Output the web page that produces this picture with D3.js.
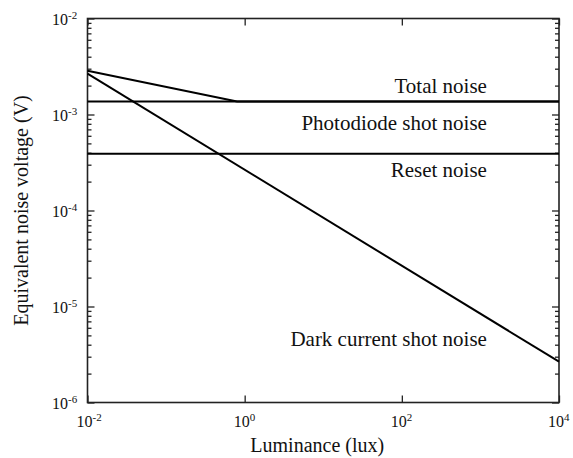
<!DOCTYPE html>
<html>
<head>
<meta charset="utf-8">
<script src="https://cdn.jsdelivr.net/npm/d3@7"></script>
<style>
  body { margin: 0; background: #fff; }
  svg { display: block; }
  svg text { font-family: 'Times New Roman', Times, Tinos, 'Liberation Serif', 'DejaVu Serif', 'Noto Serif', serif; fill: #111; }
</style>
</head>
<body>
<div id="chart"></div>
<script>
// Values (lux, volts)
const dark_lux = [ 1e-2, 1e4 ];
const dark_v = [ 2.66e-3, 2.66e-6 ];
const total_lux = [ 1e-2, 0.8, 1e4 ];
const total_v = [ 2.86e-3, 1.37e-3, 1.37e-3 ];
const photo_lux = [ 1e-2, 1e4 ];
const photo_v = [ 1.37e-3, 1.37e-3 ];
const reset_lux = [ 1e-2, 1e4 ];
const reset_v = [ 3.9e-4, 3.9e-4 ];

const x_tick_exps = [ -2, 0, 2, 4 ];
const y_tick_exps = [ -6, -5, -4, -3, -2 ];

const label_texts = [ 'Total noise', 'Photodiode shot noise', 'Reset noise', 'Dark current shot noise' ];
const label_lux = [ 1210, 1210, 1210, 1210 ];
const label_v = [ 1.66e-3, 6.9e-4, 2.25e-4, 3.88e-6 ];

const xAxisTitle = 'Luminance (lux)';
const yAxisTitle = 'Equivalent noise voltage (V)';

const figure_width = 573;
const figure_height = 458;
const plot_margin = { top: 18.5, right: 14, bottom: 55.5, left: 87.5 },
    plot_width = figure_width - plot_margin.left - plot_margin.right,
    plot_height = figure_height - plot_margin.top - plot_margin.bottom;

const svg = d3.select( 'div#chart' )
  .append( 'svg' )
    .attr( 'width', figure_width )
    .attr( 'height', figure_height )
    .append( 'g' )
      .attr( 'transform', 'translate(' + plot_margin.left + ',' + plot_margin.top + ')' );

const x = d3.scaleLog()
  .domain( [ 1e-2, 1e4 ] )
  .range( [ 0, plot_width ] );
const y = d3.scaleLog()
  .domain( [ 1e-6, 1e-2 ] )
  .range( [ plot_height, 0 ] );

// minor y ticks (2..9 per decade)
const y_minor = [];
y_tick_exps.slice( 0, -1 ).forEach( function( e ) {
  for ( let m = 2; m < 10; m++ ) y_minor.push( m * Math.pow( 10, e ) );
});
const x_major = x_tick_exps.map( function( e ){ return Math.pow( 10, e ) } );
const y_major = y_tick_exps.map( function( e ){ return Math.pow( 10, e ) } );

// Axes with inward ticks: bottom, top, left, right
svg.append( 'g' )
  .attr( 'transform', 'translate(0,' + plot_height + ')' )
  .call( d3.axisBottom( x ).tickValues( x_major ).tickSize( -7 ).tickFormat( '' ).tickSizeOuter( 0 ) );
svg.append( 'g' )
  .call( d3.axisTop( x ).tickValues( x_major ).tickSize( -7 ).tickFormat( '' ).tickSizeOuter( 0 ) );
svg.append( 'g' )
  .call( d3.axisLeft( y ).tickValues( y_major ).tickSize( -7 ).tickFormat( '' ).tickSizeOuter( 0 ) );
svg.append( 'g' )
  .call( d3.axisLeft( y ).tickValues( y_minor ).tickSize( -4 ).tickFormat( '' ).tickSizeOuter( 0 ) );
svg.append( 'g' )
  .attr( 'transform', 'translate(' + plot_width + ',0)' )
  .call( d3.axisRight( y ).tickValues( y_major ).tickSize( -7 ).tickFormat( '' ).tickSizeOuter( 0 ) );
svg.append( 'g' )
  .attr( 'transform', 'translate(' + plot_width + ',0)' )
  .call( d3.axisRight( y ).tickValues( y_minor ).tickSize( -4 ).tickFormat( '' ).tickSizeOuter( 0 ) );

svg.selectAll( '.domain' ).remove();
svg.selectAll( '.tick line' ).attr( 'stroke', '#222' ).attr( 'stroke-width', 1.3 );

// frame
svg.append( 'rect' )
  .attr( 'x', 0 ).attr( 'y', 0 )
  .attr( 'width', plot_width ).attr( 'height', plot_height )
  .attr( 'fill', 'none' )
  .attr( 'stroke', '#222' )
  .attr( 'stroke-width', 1.6 );

// tick labels 10^n
const xLab = svg.append( 'g' ).selectAll( 'text' )
  .data( x_tick_exps ).enter()
  .append( 'text' )
    .attr( 'x', function( d ){ return x( Math.pow( 10, d ) ) - 11 } )
    .attr( 'y', plot_height + 24.5 )
    .style( 'font-size', '16px' );
xLab.append( 'tspan' ).text( '10' );
xLab.append( 'tspan' ).attr( 'dy', -6 ).style( 'font-size', '11px' ).text( function( d ){ return d < 0 ? '-' + Math.abs( d ) : d } );

const yLab = svg.append( 'g' ).selectAll( 'text' )
  .data( y_tick_exps ).enter()
  .append( 'text' )
    .attr( 'x', -35.5 )
    .attr( 'y', function( d ){ return y( Math.pow( 10, d ) ) + 6 } )
    .style( 'font-size', '16px' );
yLab.append( 'tspan' ).text( '10' );
yLab.append( 'tspan' ).attr( 'dy', -6 ).style( 'font-size', '11px' ).text( function( d ){ return '-' + Math.abs( d ) } );

// lines
const line = d3.line()
  .x( function( d ){ return x( d[0] ) } )
  .y( function( d ){ return y( d[1] ) } );
const series = [
  d3.zip( reset_lux, reset_v ),
  d3.zip( photo_lux, photo_v ),
  d3.zip( total_lux, total_v ),
  d3.zip( dark_lux, dark_v )
];
svg.append( 'g' ).selectAll( 'path' )
  .data( series ).enter()
  .append( 'path' )
    .attr( 'd', line )
    .attr( 'fill', 'none' )
    .attr( 'stroke', '#000' )
    .attr( 'stroke-width', 2 );

// curve labels
svg.append( 'g' ).selectAll( 'text' )
  .data( label_texts ).enter()
  .append( 'text' )
    .attr( 'x', function( d, i ){ return x( label_lux[i] ) } )
    .attr( 'y', function( d, i ){ return y( label_v[i] ) } )
    .attr( 'text-anchor', 'end' )
    .style( 'font-size', '21px' )
    .text( function( d ){ return d } );

// axis titles
svg.append( 'text' )
  .attr( 'x', plot_width / 2 - 6 )
  .attr( 'y', plot_height + 49 )
  .attr( 'text-anchor', 'middle' )
  .style( 'font-size', '20px' )
  .text( xAxisTitle );

svg.append( 'g' )
  .attr( 'transform', 'translate(' + ( -plot_margin.left + 28 ) + ',' + ( plot_height / 2 ) + ')' )
  .append( 'text' )
    .attr( 'text-anchor', 'middle' )
    .attr( 'transform', 'rotate(-90)' )
    .style( 'font-size', '20px' )
    .text( yAxisTitle );
</script>
</body>
</html>
